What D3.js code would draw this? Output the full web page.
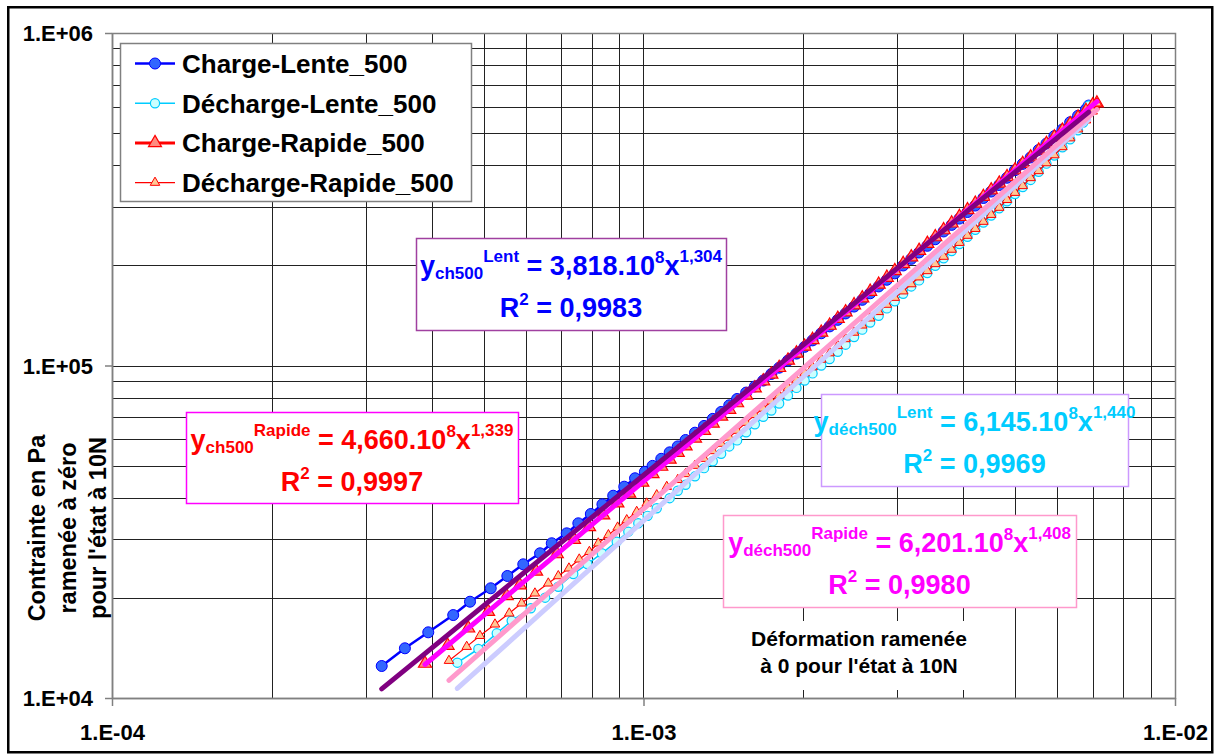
<!DOCTYPE html>
<html><head><meta charset="utf-8">
<script src="https://cdn.jsdelivr.net/npm/d3@7"></script>
<style>
body{margin:0;background:#fff}
svg{display:block}
text{font-family:"Liberation Sans",Arial,sans-serif;font-weight:bold}
</style>
</head><body>
<svg id="c" width="1221" height="756"></svg>
<script>
// ---------- DATA ----------
const xTicks = [1e-4, 1e-3, 1e-2];
const xTickLabels = ["1.E-04", "1.E-03", "1.E-02"];
const yTicks = [1e4, 1e5, 1e6];
const yTickLabels = ["1.E+04", "1.E+05", "1.E+06"];

const seriesNames = ["Charge-Lente_500", "Décharge-Lente_500", "Charge-Rapide_500", "Décharge-Rapide_500"];

const chLenteX = [3.217e-4,3.557e-4,3.936e-4,4.385e-4,4.716e-4,5.159e-4,5.544e-4,5.94e-4,6.388e-4,6.72e-4,7.17e-4,7.54e-4,7.96e-4,8.37e-4,8.77e-4,9.2e-4,9.64e-4,1.006e-3,
 1.04e-3,1.08e-3,1.12e-3,1.16e-3,1.20e-3,1.25e-3,1.30e-3,1.35e-3,1.40e-3,1.45e-3,1.50e-3,1.56e-3,1.62e-3,1.68e-3,1.74e-3,1.80e-3,1.87e-3,1.94e-3,2.01e-3,2.08e-3,2.16e-3,
 2.24e-3,2.32e-3,2.40e-3,2.49e-3,2.58e-3,2.67e-3,2.77e-3,2.87e-3,2.97e-3,3.08e-3,3.19e-3,3.30e-3,3.42e-3,3.54e-3,3.67e-3,3.80e-3,3.93e-3,
 4.07e-3,4.21e-3,4.36e-3,4.51e-3,4.67e-3,4.83e-3,5.00e-3,5.17e-3,5.35e-3,5.54e-3,5.73e-3,5.93e-3,6.14e-3,6.35e-3,6.57e-3,6.80e-3,6.88e-3];
const chLenteY = [12480,14110,15760,17760,19480,21380,23280,25240,27240,29200,31280,33530,35760,38240,40580,43200,45800,47900,
 49900,52400,54800,57100,59700,62800,65800,69100,72500,75900,79300,82900,86500,90100,94300,98500,103500,108600,113800,119000,125000,
 131100,137200,143400,150400,157600,164900,172900,181100,189300,199900,209300,218700,229100,239700,253000,264800,276600,
 289500,302700,319000,333500,348900,367000,386700,403900,422400,445000,465100,489800,512500,539200,563600,589400,605000];

const dechLenteX = [4.464e-4,4.890e-4,5.295e-4,5.649e-4,6.135e-4,6.53e-4,6.913e-4,7.377e-4,7.84e-4,8.345e-4,8.905e-4,9.363e-4,9.777e-4,1.018e-3,1.059e-3,
 1.12e-3,1.16e-3,1.20e-3,1.25e-3,1.30e-3,1.35e-3,1.40e-3,1.45e-3,1.50e-3,1.56e-3,1.62e-3,1.68e-3,1.74e-3,1.80e-3,1.87e-3,1.94e-3,2.01e-3,2.08e-3,2.16e-3,
 2.24e-3,2.32e-3,2.40e-3,2.49e-3,2.58e-3,2.67e-3,2.77e-3,2.87e-3,2.97e-3,3.08e-3,3.19e-3,3.30e-3,3.42e-3,3.54e-3,3.67e-3,3.80e-3,3.93e-3,
 4.07e-3,4.21e-3,4.36e-3,4.51e-3,4.67e-3,4.83e-3,5.00e-3,5.17e-3,5.35e-3,5.54e-3,5.73e-3,5.93e-3,6.14e-3,6.35e-3,6.57e-3,6.72e-3,6.80e-3,6.88e-3];
const dechLenteY = [12770,14040,15650,17080,18610,20030,21610,23600,25290,27240,29520,31640,33530,35300,37200,
 39900,42000,43780,46420,49120,51500,54280,57090,59530,63000,66520,70090,73210,76890,81220,85630,90120,94690,99980,
 104600,110000,115500,121800,128200,134700,141100,148500,156000,164400,172900,180300,189800,199500,210100,220900,231800,
 243800,256000,269200,282600,297200,311900,328000,344100,361500,382600,404600,428100,453200,478900,510000,537900,562300,605000];

const chRapideX = [3.88e-4,4.28e-4,4.68e-4,5.10e-4,5.53e-4,5.85e-4,6.28e-4,6.87e-4,7.40e-4,7.90e-4,8.40e-4,8.93e-4,9.40e-4,9.95e-4,
 1.04e-3,1.08e-3,1.12e-3,1.16e-3,1.20e-3,1.25e-3,1.30e-3,1.35e-3,1.40e-3,1.45e-3,1.50e-3,1.56e-3,1.62e-3,1.68e-3,1.74e-3,1.80e-3,1.87e-3,1.94e-3,2.01e-3,2.08e-3,2.16e-3,
 2.24e-3,2.32e-3,2.40e-3,2.49e-3,2.58e-3,2.67e-3,2.77e-3,2.87e-3,2.97e-3,3.08e-3,3.19e-3,3.30e-3,3.42e-3,3.54e-3,3.67e-3,3.80e-3,3.93e-3,
 4.07e-3,4.21e-3,4.36e-3,4.51e-3,4.67e-3,4.83e-3,5.00e-3,5.17e-3,5.35e-3,5.54e-3,5.73e-3,5.93e-3,6.14e-3,6.35e-3,6.57e-3,6.80e-3,7.00e-3,7.13e-3];
const chRapideY = [12700,14380,16210,18190,20270,21860,24040,27110,29950,32690,35480,38530,41260,44510,
 47230,49680,52170,54690,57210,60410,63670,66970,70310,73710,77130,81280,85490,89770,94060,98450,103600,108800,114100,119500,125700,
 131900,138300,144700,152000,159400,166900,175300,183900,192600,202200,211800,221600,232500,243500,255600,267800,280100,
 293600,307200,321900,336900,352900,369100,386800,404500,423400,443600,464200,486000,509200,532700,557600,583700,606700,615000];

const dechRapideX = [4.305e-4,4.649e-4,4.924e-4,5.255e-4,5.59e-4,5.898e-4,6.248e-4,6.62e-4,6.913e-4,7.24e-4,7.57e-4,7.91e-4,8.22e-4,8.59e-4,8.94e-4,9.30e-4,9.71e-4,1.014e-3,1.059e-3,1.106e-3,
 1.16e-3,1.20e-3,1.25e-3,1.30e-3,1.35e-3,1.40e-3,1.45e-3,1.50e-3,1.56e-3,1.62e-3,1.68e-3,1.74e-3,1.80e-3,1.87e-3,1.94e-3,2.01e-3,2.08e-3,2.16e-3,
 2.24e-3,2.32e-3,2.40e-3,2.49e-3,2.58e-3,2.67e-3,2.77e-3,2.87e-3,2.97e-3,3.08e-3,3.19e-3,3.30e-3,3.42e-3,3.54e-3,3.67e-3,3.80e-3,3.93e-3,
 4.07e-3,4.21e-3,4.36e-3,4.51e-3,4.67e-3,4.83e-3,5.00e-3,5.17e-3,5.35e-3,5.54e-3,5.73e-3,5.93e-3,6.14e-3,6.35e-3,6.57e-3,6.80e-3,7.00e-3,7.13e-3];
const dechRapideY = [12950,14270,15390,16660,17980,19270,20650,22130,23280,24550,26130,27540,29200,30920,32600,34300,36330,38500,40770,43200,
 45320,47210,50000,52470,55340,58240,60780,63730,67360,71040,74250,78010,81280,85750,90310,94930,98950,104300,
 109000,114600,120200,125700,132100,138700,145000,152500,160000,167300,175800,184300,192500,202100,212600,223300,234100,
 245900,257900,270900,284200,298500,315100,331000,346900,366600,384800,406400,429500,454300,482900,513700,546700,581400,615000];

// power trendlines y = a * x^b, one per series (same order as seriesNames)
const trendA = [3.818e8, 7.13e8, 4.660e8, 6.201e8];
const trendB = [1.304, 1.440, 1.339, 1.408];

// equation labels
const eqSub = ["ch500", "déch500", "ch500", "déch500"];
const eqSup = ["Lent", "Lent", "Rapide", "Rapide"];
const eqCoef = ["3,818.10", "6,145.10", "4,660.10", "6,201.10"];
const eqExp = ["1,304", "1,440", "1,339", "1,408"];
const eqR2 = ["0,9983", "0,9969", "0,9997", "0,9980"];

// ---------- STYLES / LAYOUT ----------
const W = 1221, H = 756;
const L = 112, R = 1175, T = 33, B = 698;
const svg = d3.select("#c");

const x = d3.scaleLog().domain([1e-4, 1e-2]).range([L, R]);
const y = d3.scaleLog().domain([1e4, 1e6]).range([B, T]);

const sX = [chLenteX, dechLenteX, chRapideX, dechRapideX];
const sY = [chLenteY, dechLenteY, chRapideY, dechRapideY];
const styles = [
  {line:"#0000FF", lw:2.5, marker:"circle", r:5.5, fill:"#3366FF", stroke:"#0000FF", sw:1},
  {line:"#00CCFF", lw:1.5, marker:"circle", r:4.6, fill:"#CCFFFF", stroke:"#00CCFF", sw:1.2},
  {line:"#FF0000", lw:3, marker:"triangle", s:13, fill:"#FF8C80", stroke:"#FF0000", sw:1.2},
  {line:"#FF0000", lw:1.2, marker:"triangle", s:9.5, fill:"#FFC896", stroke:"#FF0000", sw:1}
];
const trendColors = ["#800080", "#CCCCFF", "#FF00FF", "#FF99CC"];
const trendOrder = [1, 3, 2, 0];
const eqColors = ["#0000FF", "#00CCFF", "#FF0000", "#FF00FF"];
const eqBorder = ["#A040A0", "#CC99FF", "#FF00FF", "#FF99CC"];
const eqBox = [[416,238,310,92],[821,394,307,92],[186,412,332,91],[723,515,353,92]];

// background
svg.append("rect").attr("width", W).attr("height", H).attr("fill", "#fff");
svg.append("rect").attr("x", 8.25).attr("y", 7.25).attr("width", 1204).attr("height", 745)
  .attr("fill", "none").attr("stroke", "#000").attr("stroke-width", 2.5);

// gridlines
const gx = x.ticks(), gy = y.ticks();
const grid = svg.append("g").attr("stroke", "#222").attr("stroke-width", 1).attr("shape-rendering", "crispEdges");
grid.selectAll("line.v").data(gx).join("line").attr("class","v")
  .attr("x1", d => Math.round(x(d)) + 0.5).attr("x2", d => Math.round(x(d)) + 0.5).attr("y1", T).attr("y2", B);
grid.selectAll("line.h").data(gy).join("line").attr("class","h")
  .attr("y1", d => Math.round(y(d)) + 0.5).attr("y2", d => Math.round(y(d)) + 0.5).attr("x1", L).attr("x2", R);

// plot border
svg.append("rect").attr("x", L + 0.5).attr("y", T + 0.5).attr("width", R - L).attr("height", B - T)
  .attr("fill", "none").attr("stroke", "#808080").attr("stroke-width", 1.5);

// axes
const ax = svg.append("g").attr("transform", `translate(0,${B})`)
  .call(d3.axisBottom(x).tickValues(xTicks).tickFormat((d, i) => xTickLabels[i]).tickSize(8).tickSizeOuter(0));
ax.select(".domain").attr("stroke", "#808080").attr("stroke-width", 1.5);
ax.selectAll(".tick line").attr("stroke", "#808080").attr("stroke-width", 1.5);
ax.selectAll(".tick text").attr("fill", "#000").attr("font-size", 22).attr("font-weight", "bold")
  .attr("font-family", "Liberation Sans, Arial, sans-serif").attr("dy", null).attr("y", 42);

const ay = svg.append("g").attr("transform", `translate(${L},0)`)
  .call(d3.axisLeft(y).tickValues(yTicks).tickFormat((d, i) => yTickLabels[i]).tickSize(7).tickSizeOuter(0));
ay.select(".domain").attr("stroke", "#808080").attr("stroke-width", 1.5);
ay.selectAll(".tick line").attr("stroke", "#808080").attr("stroke-width", 1.5);
ay.selectAll(".tick text").attr("fill", "#000").attr("font-size", 22).attr("font-weight", "bold")
  .attr("font-family", "Liberation Sans, Arial, sans-serif").attr("x", -19).attr("dy", "0.36em");

// series
const plot = svg.append("g");
const lineGen = d3.line().x(d => x(d[0])).y(d => y(d[1]));
const triangle = s => d3.symbol().type(d3.symbolTriangle).size(Math.sqrt(3) / 4 * s * s)();
sX.forEach((xs, i) => {
  const st = styles[i];
  const pts = xs.map((v, j) => [v, sY[i][j]]);
  const g = plot.append("g");
  g.append("path").attr("d", lineGen(pts)).attr("fill", "none").attr("stroke", st.line)
    .attr("stroke-width", st.lw).attr("stroke-linejoin", "round");
  if (st.marker === "circle") {
    g.selectAll("circle").data(pts).join("circle").attr("cx", d => x(d[0])).attr("cy", d => y(d[1]))
      .attr("r", st.r).attr("fill", st.fill).attr("stroke", st.stroke).attr("stroke-width", st.sw);
  } else {
    g.selectAll("path.m").data(pts).join("path").attr("class", "m").attr("d", triangle(st.s))
      .attr("transform", d => `translate(${x(d[0])},${y(d[1])})`)
      .attr("fill", st.fill).attr("stroke", st.stroke).attr("stroke-width", st.sw);
  }
});

// trendlines
trendOrder.forEach(i => {
  const ext = d3.extent(sX[i]);
  const pts = ext.map(v => [v, trendA[i] * Math.pow(v, trendB[i])]);
  plot.append("path").attr("d", lineGen(pts)).attr("fill", "none").attr("stroke", trendColors[i])
    .attr("stroke-width", 5).attr("stroke-linecap", "round");
});

// legend
const lg = svg.append("g");
lg.append("rect").attr("x", 120.5).attr("y", 43.5).attr("width", 351).attr("height", 158)
  .attr("fill", "#fff").attr("stroke", "#808080").attr("stroke-width", 1.5);
seriesNames.forEach((nm, i) => {
  const cy = 63.5 + i * 39.7, st = styles[i];
  lg.append("line").attr("x1", 135).attr("x2", 175).attr("y1", cy).attr("y2", cy)
    .attr("stroke", st.line).attr("stroke-width", st.lw);
  if (st.marker === "circle") {
    lg.append("circle").attr("cx", 155).attr("cy", cy).attr("r", st.r).attr("fill", st.fill)
      .attr("stroke", st.stroke).attr("stroke-width", st.sw);
  } else {
    lg.append("path").attr("d", triangle(st.s)).attr("transform", `translate(155,${cy})`)
      .attr("fill", st.fill).attr("stroke", st.stroke).attr("stroke-width", st.sw);
  }
  lg.append("text").attr("x", 182).attr("y", cy + 9.5).attr("font-size", 26).text(nm);
});

// equation boxes
eqBox.forEach((bx, i) => {
  const g = svg.append("g");
  g.append("rect").attr("x", bx[0] + 0.5).attr("y", bx[1] + 0.5).attr("width", bx[2]).attr("height", bx[3])
    .attr("fill", "#fff").attr("stroke", eqBorder[i]).attr("stroke-width", 1.5);
  const cx = bx[0] + bx[2] / 2;
  const t1 = g.append("text").attr("x", cx).attr("y", bx[1] + 37).attr("text-anchor", "middle")
    .attr("fill", eqColors[i]).attr("font-size", 27);
  t1.append("tspan").text("y");
  t1.append("tspan").attr("font-size", 17).attr("dy", 4).text(eqSub[i]);
  t1.append("tspan").attr("font-size", 17).attr("dy", -17).text(eqSup[i]);
  t1.append("tspan").attr("dy", 13).text(" = " + eqCoef[i]);
  t1.append("tspan").attr("font-size", 17).attr("dy", -12).text("8");
  t1.append("tspan").attr("dy", 12).text("x");
  t1.append("tspan").attr("font-size", 17).attr("dy", -13).text(eqExp[i]);
  const t2 = g.append("text").attr("x", cx).attr("y", bx[1] + 79).attr("text-anchor", "middle")
    .attr("fill", eqColors[i]).attr("font-size", 27);
  t2.append("tspan").text("R");
  t2.append("tspan").attr("font-size", 17).attr("dy", -12).text("2");
  t2.append("tspan").attr("dy", 12).text(" = " + eqR2[i]);
});

// x-axis title (white background)
svg.append("rect").attr("x", 742).attr("y", 621).attr("width", 236).attr("height", 69).attr("fill", "#fff");
const xt = svg.append("text").attr("text-anchor", "middle").attr("font-size", 21).attr("fill", "#000");
xt.append("tspan").attr("x", 859).attr("y", 646).text("Déformation ramenée");
xt.append("tspan").attr("x", 859).attr("y", 673).text("à 0 pour l'état à 10N");

// y-axis title
const ytl = ["Contrainte en Pa", "ramenée à zéro", "pour l'état à 10N"];
const ybl = [45, 76, 106];
ytl.forEach((t, i) => {
  svg.append("text").attr("transform", `translate(${ybl[i]},528) rotate(-90)`).attr("text-anchor", "middle")
    .attr("font-size", 23.5).attr("fill", "#000").text(t);
});
</script>
</body></html>
